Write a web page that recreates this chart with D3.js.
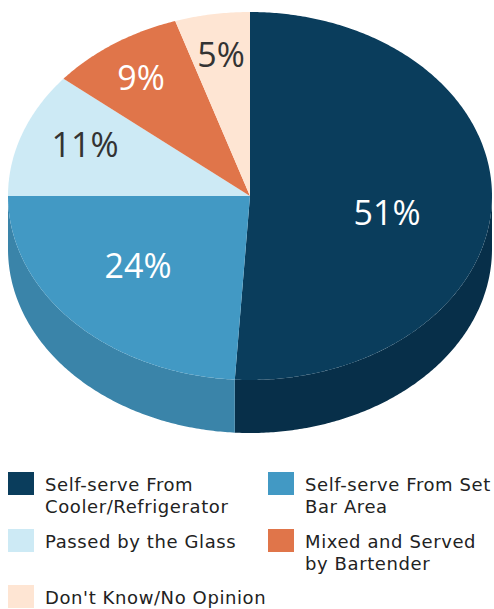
<!DOCTYPE html>
<html><head><meta charset="utf-8">
<script src="https://cdn.jsdelivr.net/npm/d3@7"></script>
<style>html,body{margin:0;padding:0;background:#fff;}svg{display:block;}</style>
</head><body>
<svg id="c" width="494" height="609"></svg>
<script>
const categories = ["Self-serve From Cooler/Refrigerator","Self-serve From Set Bar Area","Passed by the Glass","Mixed and Served by Bartender","Don't Know/No Opinion"];
const legendLines = [["Self-serve From","Cooler/Refrigerator"],["Self-serve From Set","Bar Area"],["Passed by the Glass"],["Mixed and Served","by Bartender"],["Don't Know/No Opinion"]];
const values = [51, 24, 11, 9, 5];
const labels = ["51%","24%","11%","9%","5%"];
const topColors = ["#0a3d5c","#4299c4","#cdeaf5","#e0754a","#fee5d3"];
const sideColors = ["#072f49","#3a84a9","#b4d6e4","#c4643e","#e8cdb9"];
const labelColors = ["#ffffff","#ffffff","#333333","#ffffff","#333333"];

const svg = d3.select("#c");
const cx = 250, cy = 196, rx = 242, ry = 184, depth = 53;
const pie = d3.pie().sort(null).value(d => d);
const arcs = pie(values);

const px = a => cx + rx * Math.sin(a);
const py = (a, dz=0) => cy - ry * Math.cos(a) + dz;

function arcPts(a0, a1, dz) {
  const n = Math.max(2, Math.ceil(Math.abs(a1 - a0) / 0.01));
  const pts = [];
  for (let i = 0; i <= n; i++) {
    const a = a0 + (a1 - a0) * i / n;
    pts.push([px(a), py(a, dz)]);
  }
  return pts;
}
const line = d3.line();

// side faces (front half: angle in [pi/2, 3pi/2])
const gSide = svg.append("g");
arcs.forEach((d, i) => {
  const a0 = Math.max(d.startAngle, Math.PI/2), a1 = Math.min(d.endAngle, 3*Math.PI/2);
  if (a1 <= a0) return;
  const pts = arcPts(a0, a1, 0).concat(arcPts(a1, a0, depth));
  gSide.append("path").attr("d", line(pts) + "Z").attr("fill", sideColors[i]);
});

// top faces
const gTop = svg.append("g");
arcs.forEach((d, i) => {
  const pts = [[cx, cy]].concat(arcPts(d.startAngle, d.endAngle, 0));
  gTop.append("path").attr("d", line(pts) + "Z").attr("fill", topColors[i]);
});

// labels
const labelPos = [[387,225],[138,278],[85,157],[141,90],[221,67]];
svg.append("g").selectAll("text").data(labels).join("text")
  .attr("x", (d,i) => labelPos[i][0]).attr("y", (d,i) => labelPos[i][1])
  .attr("text-anchor","middle")
  .attr("font-family","'Open Sans', sans-serif")
  .attr("font-size", 34)
  .attr("fill", (d,i) => labelColors[i])
  .text(d => d);

// legend
const legPos = [[8,472],[268,472],[8,529],[268,529],[8,585]];
const lg = svg.append("g");
categories.forEach((c, i) => {
  const [x, y] = legPos[i];
  lg.append("rect").attr("x", x).attr("y", y).attr("width", 26).attr("height", 23).attr("fill", topColors[i]);
  const t = lg.append("text").attr("x", x + 37).attr("y", y + 19)
    .attr("font-family","'DejaVu Sans', sans-serif").attr("font-size", 18)
    .attr("letter-spacing", 0.6).attr("fill", "#222");
  legendLines[i].forEach((l, j) => {
    t.append("tspan").attr("x", x + 37).attr("dy", j === 0 ? 0 : 22).text(l);
  });
});
</script>
</body></html>
